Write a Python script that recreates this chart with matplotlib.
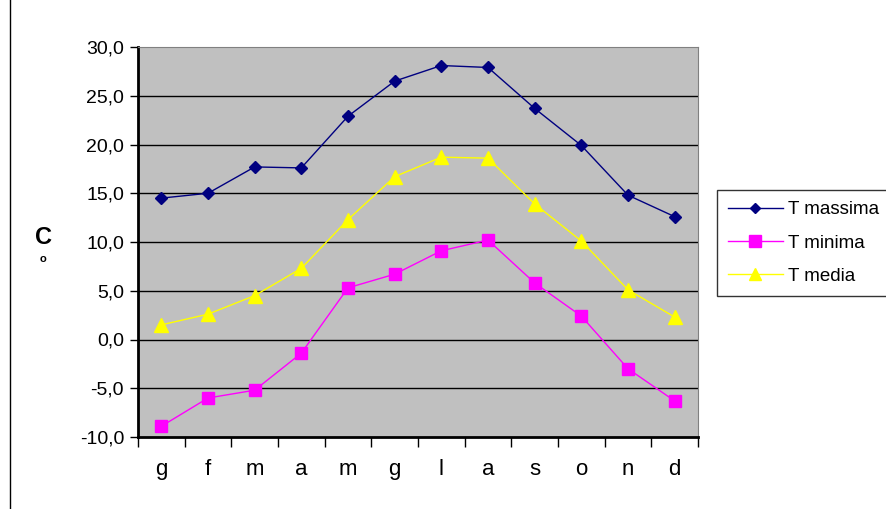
import numpy as np
import matplotlib.pyplot as plt
from matplotlib.lines import Line2D
from matplotlib.ticker import FuncFormatter

plt.rcParams['font.family'] = ['Liberation Sans', 'DejaVu Sans']

# monthly temperatures (°C)
mesi = ['g', 'f', 'm', 'a', 'm', 'g', 'l', 'a', 's', 'o', 'n', 'd']
t_massima = [14.5, 15.0, 17.7, 17.6, 22.9, 26.5, 28.1, 27.9, 23.7, 19.9, 14.8, 12.6]
t_minima = [-8.9, -6.0, -5.2, -1.4, 5.3, 6.7, 9.1, 10.2, 5.8, 2.4, -3.0, -6.3]
t_media = [1.5, 2.6, 4.5, 7.3, 12.3, 16.7, 18.7, 18.6, 13.9, 10.1, 5.1, 2.3]

fig = plt.figure(figsize=(8.86, 5.09), dpi=100)
ax = fig.add_axes([138 / 886, 72 / 509, 560 / 886, 390 / 509])
ax.set_facecolor('#C0C0C0')

x = np.arange(len(mesi))
ax.plot(x, t_massima, color='#000080', lw=1, marker='D', ms=6,
        label='T massima', zorder=4)
ax.plot(x, t_minima, color='#FF00FF', lw=1, marker='s', ms=9,
        label='T minima', zorder=3)
ax.plot(x, t_media, color='#FFFF00', lw=1, marker='^', ms=10,
        label='T media', zorder=3)

ax.set_xlim(-0.5, len(mesi) - 0.5)
ax.set_ylim(-10, 30)
ax.set_yticks(np.arange(-10, 31, 5))
ax.yaxis.set_major_formatter(FuncFormatter(lambda v, p: f'{v:.1f}'.replace('.', ',')))
ax.tick_params(axis='y', labelsize=14, length=6, width=1, direction='out', pad=4)

# month labels centred, ticks on the boundaries
ax.set_xticks(np.arange(-0.5, len(mesi), 1))
ax.set_xticklabels([])
ax.set_xticks(x, minor=True)
ax.set_xticklabels(mesi, minor=True, fontsize=16)
ax.tick_params(axis='x', which='major', length=7, width=1, direction='out')
ax.tick_params(axis='x', which='minor', length=0, pad=16)

for v in range(-5, 30, 5):
    ax.axhline(v, color='black', lw=1, zorder=1)

ax.spines['left'].set_linewidth(2)
ax.spines['bottom'].set_linewidth(2)
ax.spines['top'].set_color('#808080')
ax.spines['right'].set_color('#808080')

fig.text(43 / 886, 1 - 237 / 509, 'C', fontsize=17, fontweight='bold',
         ha='center', va='center')
fig.text(43 / 886, 1 - 259 / 509, 'o', fontsize=8, fontweight='bold',
         ha='center', va='center')

leg = fig.legend(loc='center left', bbox_to_anchor=(717 / 886, 1 - 243 / 509),
                 fontsize=13.5, frameon=True, fancybox=False, handlelength=2.9,
                 labelspacing=0.85, borderpad=0.6, handletextpad=0.3,
                 borderaxespad=0, markerscale=0.9)
leg.get_frame().set_edgecolor('black')
leg.get_frame().set_linewidth(1)

fig.add_artist(Line2D([9.5 / 886, 9.5 / 886], [0, 1], color='black', lw=1))

fig.savefig('out.png', dpi=100)
